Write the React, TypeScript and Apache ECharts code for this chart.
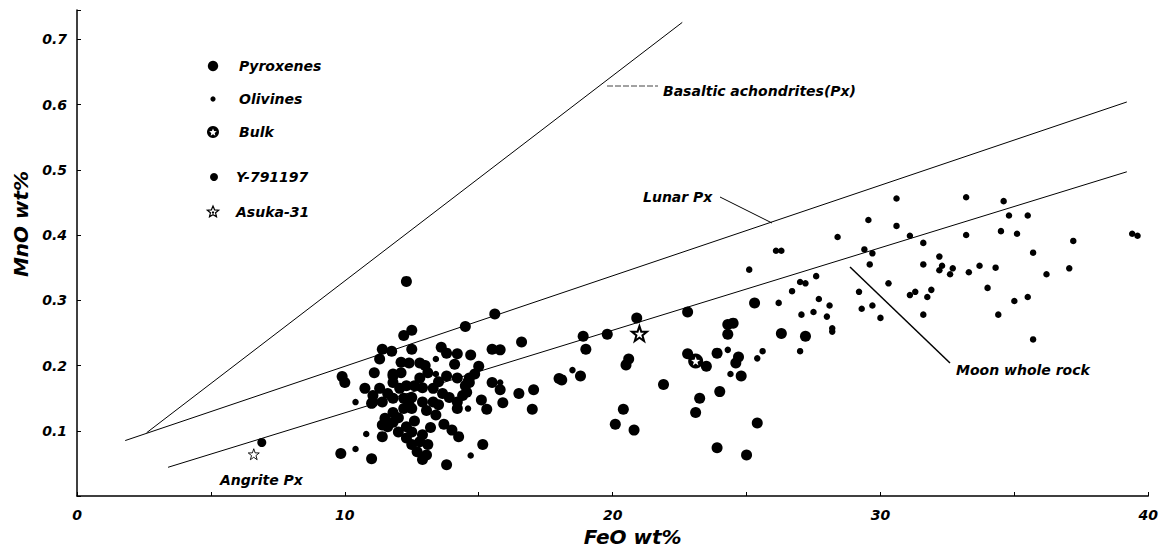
import React, { useEffect, useRef } from "react";
import * as echarts from "echarts";

// ---- Data (FeO wt%, MnO wt%) ----
const pyroxenes: number[][] = [
  [12.3, 0.329], [15.6, 0.279], [14.5, 0.26], [12.5, 0.254], [12.2, 0.246], [16.6, 0.236], [15.5, 0.225], [15.8, 0.224],
  [14.7, 0.216], [15.0, 0.199], [13.6, 0.228], [13.8, 0.219], [14.1, 0.202], [18.0, 0.18], [15.5, 0.174], [15.8, 0.163],
  [16.5, 0.157], [17.05, 0.163], [17.0, 0.133], [15.9, 0.143], [15.1, 0.147], [15.3, 0.133], [14.2, 0.134], [14.6, 0.175],
  [14.4, 0.154], [15.15, 0.079], [13.8, 0.048], [13.7, 0.11], [14.0, 0.101], [14.25, 0.091],
  [11.4, 0.225], [11.75, 0.222], [11.3, 0.21], [11.1, 0.189], [9.9, 0.183], [10.0, 0.174], [10.75, 0.165], [11.05, 0.154],
  [11.0, 0.142], [11.8, 0.184], [11.5, 0.119], [11.6, 0.106], [11.4, 0.091], [9.85, 0.065], [11.0, 0.057],
  [12.5, 0.225], [12.4, 0.204], [12.8, 0.204], [11.8, 0.187], [12.1, 0.189], [13.1, 0.189], [12.8, 0.181], [13.8, 0.184],
  [14.2, 0.181], [11.3, 0.165], [11.6, 0.157], [11.8, 0.174], [12.05, 0.165], [12.3, 0.169], [12.6, 0.169], [12.9, 0.166],
  [13.3, 0.165], [13.65, 0.157], [13.9, 0.151], [14.2, 0.144], [14.55, 0.159], [14.65, 0.174], [14.85, 0.187], [11.05, 0.144],
  [11.4, 0.144], [11.8, 0.15], [12.2, 0.15], [12.5, 0.151], [12.9, 0.144], [13.3, 0.144], [11.8, 0.128], [12.2, 0.134],
  [12.5, 0.134], [13.05, 0.131], [13.4, 0.124], [11.4, 0.109], [11.8, 0.113], [12.3, 0.106], [12.5, 0.098], [12.9, 0.094],
  [12.3, 0.089], [12.5, 0.079], [12.8, 0.083], [13.1, 0.079], [12.7, 0.068], [13.05, 0.063], [12.9, 0.056], [14.65, 0.181],
  [14.5, 0.169], [14.2, 0.218], [12.0, 0.12], [12.6, 0.115], [13.2, 0.105], [12.0, 0.098], [13.5, 0.14], [12.1, 0.205],
  [13.0, 0.2], [13.5, 0.175], [12.4, 0.14],
  [18.1, 0.178], [18.8, 0.184], [18.9, 0.245], [19.8, 0.248], [19.0, 0.225], [20.9, 0.273], [20.6, 0.21], [20.5, 0.201],
  [21.9, 0.171], [20.4, 0.133], [20.1, 0.11], [20.8, 0.101], [22.8, 0.282], [24.3, 0.263], [24.5, 0.265], [24.3, 0.248],
  [24.7, 0.213], [24.6, 0.204], [24.8, 0.184], [23.9, 0.219], [22.8, 0.218], [23.5, 0.199], [24.0, 0.16], [23.25, 0.15],
  [23.1, 0.128], [23.9, 0.074], [25.0, 0.063], [25.4, 0.112], [25.3, 0.296], [26.3, 0.249], [27.2, 0.245],
];

const olivines: number[][] = [
  [26.1, 0.376], [26.3, 0.376], [28.4, 0.397], [30.6, 0.456], [29.55, 0.423], [30.6, 0.414], [31.1, 0.399], [31.6, 0.388],
  [29.4, 0.378], [29.7, 0.372], [29.6, 0.355], [27.6, 0.337], [27.0, 0.328], [27.2, 0.326], [26.7, 0.314], [26.2, 0.296],
  [27.7, 0.302], [28.1, 0.292], [27.05, 0.278], [27.5, 0.282], [28.0, 0.275], [28.2, 0.257], [28.2, 0.252], [30.3, 0.326],
  [29.2, 0.313], [29.3, 0.287], [29.7, 0.292], [30.0, 0.273], [31.6, 0.355], [32.2, 0.367], [32.3, 0.353], [32.2, 0.346],
  [32.7, 0.349], [32.6, 0.34], [31.1, 0.308], [31.3, 0.313], [31.75, 0.305], [31.9, 0.316], [31.6, 0.278], [27.0, 0.222],
  [25.6, 0.222],
  [33.2, 0.458], [34.6, 0.452], [34.8, 0.43], [35.5, 0.43], [33.2, 0.4], [34.5, 0.406], [35.1, 0.402], [37.2, 0.391],
  [39.4, 0.402], [39.6, 0.399], [35.7, 0.373], [33.3, 0.343], [33.7, 0.353], [34.3, 0.35], [34.0, 0.319], [35.0, 0.299],
  [35.5, 0.305], [36.2, 0.34], [37.05, 0.349], [34.4, 0.278], [35.7, 0.24],
  [25.1, 0.347], [24.3, 0.224], [24.4, 0.187], [25.4, 0.211],
  [18.5, 0.193], [13.4, 0.21], [13.4, 0.187], [15.8, 0.174], [14.6, 0.134], [14.7, 0.062], [10.4, 0.144], [10.8, 0.095],
  [10.4, 0.072],
];

const bulk: number[][] = [[23.1, 0.207]];
const y791197: number[][] = [[6.9, 0.082]];
const asuka31: number[][] = [[6.6, 0.064], [21.0, 0.249]];

// Reference trend lines (end points)
const basalticLine: number[][] = [[2.6, 0.097], [22.6, 0.726]];
const lunarLine: number[][] = [[1.8, 0.085], [39.2, 0.604]];
const moonLine: number[][] = [[3.4, 0.044], [39.2, 0.497]];

const xTicks = [0, 10, 20, 30, 40];
const yTicks = [0.1, 0.2, 0.3, 0.4, 0.5, 0.6, 0.7];

const legendItems = ["Pyroxenes", "Olivines", "Bulk", "Y-791197", "Asuka-31"];

const FONT = "DejaVu Sans";
const STAR =
  "path://M0,-10 L2.35,-3.24 L9.51,-3.09 L3.8,1.24 L5.88,8.09 L0,4 L-5.88,8.09 L-3.8,1.24 L-9.51,-3.09 L-2.35,-3.24 Z";

function starPoints(cx: number, cy: number, R: number, r: number): number[][] {
  const pts: number[][] = [];
  for (let i = 0; i < 10; i++) {
    const a = -Math.PI / 2 + (i * Math.PI) / 5;
    const rad = i % 2 === 0 ? R : r;
    pts.push([cx + rad * Math.cos(a), cy + rad * Math.sin(a)]);
  }
  return pts;
}

const txt = (x: number, y: number, text: string, size = 14, align = "left") => ({
  type: "text",
  x,
  y,
  style: {
    text,
    fill: "#000",
    font: `italic bold ${size}px "${FONT}"`,
    align,
    verticalAlign: "middle",
  },
  silent: true,
});

export default function App() {
  const ref = useRef<HTMLDivElement>(null);
  useEffect(() => {
    if (!ref.current) return;
    const chart = echarts.init(ref.current, undefined, { renderer: "svg" });
    const labelStyle = {
      color: "#000",
      fontFamily: FONT,
      fontWeight: "bold" as const,
      fontStyle: "italic" as const,
      fontSize: 14,
    };
    const lineSeries = (name: string, data: number[][]) => ({
      type: "line",
      name,
      data,
      showSymbol: false,
      symbol: "none",
      silent: true,
      z: 1,
      lineStyle: { color: "#000", width: 1 },
    });
    const dot = { color: "#000", opacity: 1 };
    const legendX = 213;
    const legendTextX = 238;
    const legendY = [66, 99, 132, 177, 212];
    const option: any = {
      animation: false,
      backgroundColor: "#fff",
      grid: { left: 77, right: 11, top: 10, bottom: 50, containLabel: false },
      xAxis: {
        type: "value",
        min: 0,
        max: 40,
        interval: 5,
        name: "FeO wt%",
        nameLocation: "middle",
        nameGap: 31,
        nameTextStyle: { ...labelStyle, fontSize: 20, padding: [0, 0, 0, 40] },
        axisLine: { lineStyle: { color: "#000", width: 1.5 } },
        axisTick: { inside: true, length: 4, lineStyle: { color: "#000" } },
        axisLabel: {
          ...labelStyle,
          margin: 12,
          formatter: (v: number) => (xTicks.some((t) => Math.abs(t - v) < 1e-6) ? String(v) : ""),
        },
        splitLine: { show: false },
      },
      yAxis: {
        type: "value",
        min: 0,
        max: 0.745,
        interval: 0.1,
        name: "MnO wt%",
        nameLocation: "middle",
        nameGap: 46,
        nameTextStyle: { ...labelStyle, fontSize: 20, padding: [0, 0, 0, 58] },
        axisLine: { lineStyle: { color: "#000", width: 1.5 } },
        axisTick: { inside: true, length: 4, lineStyle: { color: "#000" } },
        axisLabel: {
          ...labelStyle,
          margin: 10,
          formatter: (v: number) => {
            const t = yTicks.find((k) => Math.abs(k - v) < 1e-6);
            return t !== undefined ? t.toFixed(1) : "";
          },
        },
        splitLine: { show: false },
      },
      series: [
        lineSeries("Basaltic achondrites(Px)", basalticLine),
        lineSeries("Lunar Px", lunarLine),
        lineSeries("Moon whole rock", moonLine),
        {
          type: "scatter",
          name: "Pyroxenes",
          data: pyroxenes,
          symbol: "circle",
          symbolSize: 11,
          itemStyle: dot,
          z: 3,
        },
        {
          type: "scatter",
          name: "Olivines",
          data: olivines,
          symbol: "circle",
          symbolSize: 6.5,
          itemStyle: dot,
          z: 3,
        },
        {
          type: "scatter",
          name: "Bulk",
          data: bulk,
          symbol: "circle",
          symbolSize: 15,
          itemStyle: dot,
          z: 4,
        },
        {
          type: "scatter",
          name: "Bulk ",
          data: bulk,
          symbol: STAR,
          symbolSize: 9,
          itemStyle: { color: "#fff", opacity: 1 },
          z: 5,
        },
        {
          type: "scatter",
          name: "Y-791197",
          data: y791197,
          symbol: "circle",
          symbolSize: 9,
          itemStyle: dot,
          z: 4,
        },
        {
          type: "scatter",
          name: "Asuka-31",
          data: asuka31.map((d, i) => ({
            value: d,
            symbolSize: i === 0 ? 11 : 15,
            itemStyle: { color: "#fff", opacity: 1, borderColor: "#000", borderWidth: i === 0 ? 0.9 : 2 },
          })),
          symbol: STAR,
          z: 6,
        },
      ],
      graphic: [
        // legend
        { type: "circle", shape: { cx: legendX, cy: legendY[0], r: 5.2 }, style: { fill: "#000" }, silent: true },
        { type: "circle", shape: { cx: legendX, cy: legendY[1], r: 2.6 }, style: { fill: "#000" }, silent: true },
        { type: "circle", shape: { cx: legendX, cy: legendY[2], r: 6 }, style: { fill: "#000" }, silent: true },
        { type: "polygon", shape: { points: starPoints(legendX, legendY[2] + 0.5, 4, 1.8) }, style: { fill: "#fff" }, silent: true },
        { type: "circle", shape: { cx: legendX + 1, cy: legendY[3], r: 4 }, style: { fill: "#000" }, silent: true },
        {
          type: "polygon",
          shape: { points: starPoints(legendX, legendY[4], 6, 2.7) },
          style: { fill: "#fff", stroke: "#000", lineWidth: 1.2 },
          silent: true,
        },
        { type: "circle", shape: { cx: legendX, cy: legendY[4] + 0.5, r: 1.2 }, style: { fill: "#000" }, silent: true },
        txt(legendTextX + 1, legendY[0], legendItems[0]),
        txt(legendTextX + 1, legendY[1], legendItems[1]),
        txt(legendTextX + 1, legendY[2], legendItems[2]),
        txt(legendTextX - 2, legendY[3], legendItems[3]),
        txt(legendTextX - 2, legendY[4], legendItems[4]),
        // annotations
        {
          type: "line",
          shape: { x1: 607, y1: 86, x2: 658, y2: 86 },
          style: { stroke: "#444", lineWidth: 1, lineDash: [6, 2] },
          silent: true,
        },
        txt(663, 91, "Basaltic achondrites(Px)"),
        { type: "line", shape: { x1: 720, y1: 197, x2: 772, y2: 223 }, style: { stroke: "#000", lineWidth: 1 }, silent: true },
        txt(643, 197, "Lunar Px"),
        { type: "line", shape: { x1: 850, y1: 267, x2: 950, y2: 363 }, style: { stroke: "#000", lineWidth: 1.5 }, silent: true },
        txt(956, 370, "Moon whole rock"),
        txt(220, 480, "Angrite Px"),
      ],
    };
    chart.setOption(option);
    return () => chart.dispose();
  }, []);
  return (
    <div
      ref={ref}
      style={{ position: "fixed", left: 0, top: 0, width: 1161, height: 552, background: "#fff" }}
    />
  );
}
